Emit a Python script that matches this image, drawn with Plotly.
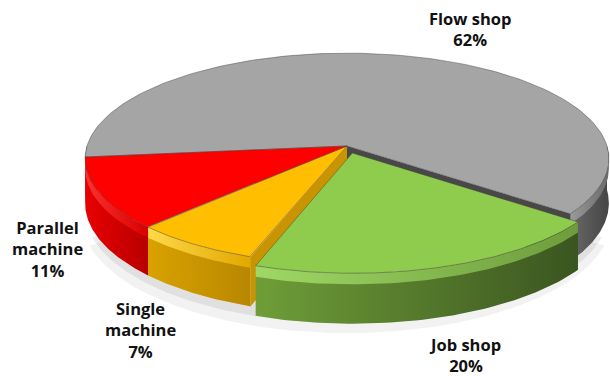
import numpy as np
import plotly.graph_objects as go

# ---- data -------------------------------------------------------------
categories = ["Flow shop", "Job shop", "Single machine", "Parallel machine"]
shares = [62, 20, 7, 11]
label_text = ["Flow shop<br>62%", "Job shop<br>20%",
              "Single<br>machine<br>7%", "Parallel<br>machine<br>11%"]

# ---- styling ----------------------------------------------------------
top_colors = ["#a5a5a5", "#8fcc4e", "#ffbf00", "#ff0000"]
side_colors = [("#6a6a6a", "#444444"), ("#6f9e38", "#3a5520"),
               ("#d9a200", "#b88700"), ("#e80000", "#b80000")]
band_colors = [("#9a9a9a", "#6a6a6a"), ("#9fd865", "#6e9c3c"),
               ("#ffd84a", "#e0a800"), ("#ff3030", "#d80000")]
wall_colors = ["#484848", "#4e7a28", "#c99400", "#b00000"]
explode = [0.0, 0.07, 0.0, 0.0]
label_pos = [(470, 29), (465, 355), (140, 330), (47, 249)]

# perspective projection of a unit disc of given thickness
CX, CY, RX, RY, K, DEPTH = 347, 146, 260, 104, 0.12, 44
START = 174


def project(theta_deg, r, z, dx=0.0, dy=0.0):
    t = np.radians(np.asarray(theta_deg, dtype=float))
    x = r * np.cos(t) + dx
    y = r * np.sin(t) + dy
    w = 1 - K * y
    return CX + RX * x / w, CY + (RY * y + DEPTH * z) / w


def front_ranges(a0, a1):
    out = []
    for n in range(-1, 3):
        lo, hi = max(a0, 360 * n), min(a1, 360 * n + 180)
        if hi > lo:
            out.append((lo, hi))
    return out


n_slices = len(shares)
frac = np.array(shares, dtype=float) / sum(shares)
bounds = START + 360 * np.concatenate([[0], np.cumsum(frac)])

fig = go.Figure()


def add_poly(xs, ys, color=None, gradient=None, line=None):
    kw = dict(x=np.append(xs, xs[0]), y=np.append(ys, ys[0]), mode="lines",
              fill="toself", hoverinfo="skip", showlegend=False,
              line=dict(width=0, color="rgba(0,0,0,0)") if line is None else line)
    if gradient is not None:
        kw["fillgradient"] = dict(type="horizontal",
                                  colorscale=[[0, gradient[0]], [1, gradient[1]]])
    else:
        kw["fillcolor"] = color
    fig.add_trace(go.Scatter(**kw))


# faint shadow under the front rim
ts = np.linspace(20, 160, 160)
for grow, z, alpha in [(1.01, 1.35, 0.05), (1.0, 1.18, 0.07)]:
    sx, sy = project(ts, grow, z)
    cx0, cy0 = project(0, 0, 0.5)
    add_poly(np.concatenate([[cx0], sx]), np.concatenate([[cy0], sy]),
             color=f"rgba(0,0,0,{alpha})")


def offset(i):
    mid = np.radians((bounds[i] + bounds[i + 1]) / 2)
    return explode[i] * np.cos(mid), explode[i] * np.sin(mid)


def draw_slice_sides(i):
    a0, a1 = bounds[i], bounds[i + 1]
    dx, dy = offset(i)
    for lo, hi in front_ranges(a0, a1):
        t = np.linspace(lo, hi, 80)
        tx, ty = project(t, 1, 0, dx, dy)
        bx, by = project(t[::-1], 1, 1, dx, dy)
        add_poly(np.concatenate([tx, bx]), np.concatenate([ty, by]),
                 gradient=side_colors[i])
        mx, my = project(t[::-1], 1, 0.22, dx, dy)
        add_poly(np.concatenate([tx, mx]), np.concatenate([ty, my]),
                 gradient=band_colors[i])
    # radial walls exposed by a separated neighbour and facing the viewer
    prev_i, next_i = (i - 1) % n_slices, (i + 1) % n_slices
    for ang, sign, nb in [(a0, -1, prev_i), (a1, 1, next_i)]:
        exposed = explode[i] > 0 or explode[nb] > 0
        if exposed and sign * np.cos(np.radians(ang)) > 1e-6:
            p = [project(ang, 0, 0, dx, dy), project(ang, 1, 0, dx, dy),
                 project(ang, 1, 1, dx, dy), project(ang, 0, 1, dx, dy)]
            add_poly(np.array([q[0] for q in p]), np.array([q[1] for q in p]),
                     color=wall_colors[i])


def draw_slice_top(i):
    a0, a1 = bounds[i], bounds[i + 1]
    dx, dy = offset(i)
    t = np.linspace(a0, a1, 160)
    ax, ay = project(t, 1, 0, dx, dy)
    cx, cy = project(0, 0, 0, dx, dy)
    add_poly(np.concatenate([[cx], ax]), np.concatenate([[cy], ay]),
             color=top_colors[i],
             line=dict(width=0.8, color="rgba(60,60,60,0.55)"))


still = [i for i in range(n_slices) if explode[i] == 0]
moved = [i for i in range(n_slices) if explode[i] > 0]
for i in still:
    draw_slice_sides(i)
for i in still:
    draw_slice_top(i)
for i in moved:
    draw_slice_sides(i)
    draw_slice_top(i)

for txt, (lx, ly) in zip(label_text, label_pos):
    fig.add_annotation(x=lx, y=ly, text=f"<b>{txt}</b>", showarrow=False,
                       xref="x", yref="y", align="center",
                       font=dict(family="Open Sans", size=16.5, color="#111111"))

fig.update_layout(
    width=610, height=376, margin=dict(l=0, r=0, t=0, b=0),
    paper_bgcolor="white", plot_bgcolor="white",
    xaxis=dict(range=[0, 610], visible=False, fixedrange=True),
    yaxis=dict(range=[376, 0], visible=False, fixedrange=True),
)
fig.write_html("out.html")
